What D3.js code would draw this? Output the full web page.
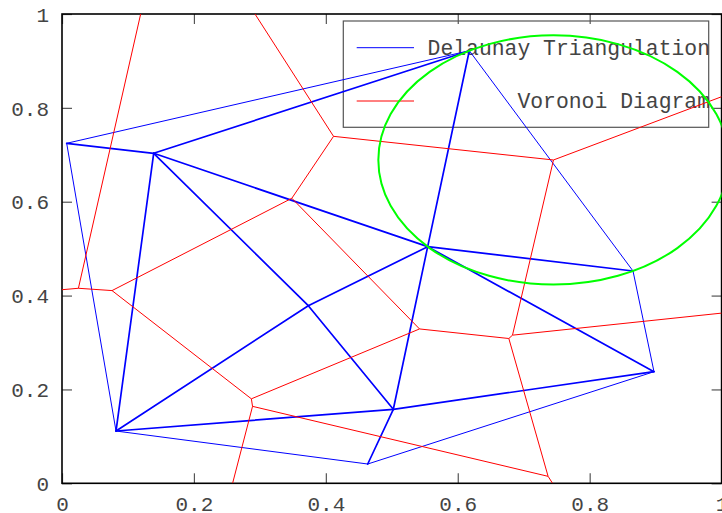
<!DOCTYPE html>
<html><head><meta charset="utf-8">
<script src="https://cdn.jsdelivr.net/npm/d3@7"></script>
<style>body{margin:0;background:#fff}svg{display:block}</style>
</head><body><svg id="c" width="722" height="513"></svg>
<script>
// ---- data ----
const pointsX = [0.0071, 0.1390, 0.6175, 0.5544, 0.8657, 0.8975, 0.5023, 0.4635, 0.0819, 0.3734];
const pointsY = [0.7245, 0.7032, 0.9218, 0.5042, 0.4524, 0.2378, 0.1577, 0.0411, 0.1114, 0.3784];
const circleTriangle = [2, 3, 4]; // points whose circumcircle is highlighted
const xTicks = [0, 0.2, 0.4, 0.6, 0.8, 1];
const xTickLabels = ["0", "0.2", "0.4", "0.6", "0.8", "1"];
const yTicks = [0, 0.2, 0.4, 0.6, 0.8, 1];
const yTickLabels = ["0", "0.2", "0.4", "0.6", "0.8", "1"];
const seriesNames = ["Delaunay Triangulation", "Voronoi Diagram"];
const seriesColors = ["#0000ff", "#ff0000"];

// ---- layout ----
const L = 62, R = 721.6, T = 14, B = 483.3;
const FONT = "Liberation Mono, Courier New, monospace";
const svg = d3.select("#c");
const x = d3.scaleLinear().domain([0, 1]).range([L, R]);
const y = d3.scaleLinear().domain([0, 1]).range([B, T]);

svg.append("defs").append("clipPath").attr("id", "clip")
  .append("rect").attr("x", L).attr("y", T).attr("width", R - L).attr("height", B - T);

// axes (ticks inward, mirrored)
function styleAxis(g, showText) {
  g.select(".domain").remove();
  g.selectAll(".tick line").attr("stroke", "#555").attr("stroke-width", 1.2);
  g.selectAll(".tick text").attr("fill", "#444").style("font-family", FONT).style("font-size", "21px");
  if (!showText) g.selectAll(".tick text").remove();
}
const gx = svg.append("g").attr("transform", `translate(0,${B})`)
  .call(d3.axisBottom(x).tickValues(xTicks).tickFormat((d, i) => xTickLabels[i]).tickSizeInner(-10).tickSizeOuter(0));
styleAxis(gx, true);
gx.selectAll(".tick text").attr("y", 0).attr("dy", "28");
const gxt = svg.append("g").attr("transform", `translate(0,${T})`)
  .call(d3.axisTop(x).tickValues(xTicks).tickSizeInner(-10).tickSizeOuter(0));
styleAxis(gxt, false);
const gy = svg.append("g").attr("transform", `translate(${L},0)`)
  .call(d3.axisLeft(y).tickValues(yTicks).tickFormat((d, i) => yTickLabels[i]).tickSizeInner(-10).tickSizeOuter(0));
styleAxis(gy, true);
gy.selectAll(".tick text").attr("x", -13).attr("dy", "0.34em");
const gyr = svg.append("g").attr("transform", `translate(${R},0)`)
  .call(d3.axisRight(y).tickValues(yTicks).tickSizeInner(-10).tickSizeOuter(0));
styleAxis(gyr, false);

// border
svg.append("rect").attr("x", L).attr("y", T).attr("width", R - L).attr("height", B - T)
  .attr("fill", "none").attr("stroke", "#000").attr("stroke-width", 1.6);

// legend
const lg = svg.append("g");
lg.append("rect").attr("x", 343.3).attr("y", 21).attr("width", 365.4).attr("height", 106.3)
  .attr("fill", "none").attr("stroke", "#555").attr("stroke-width", 1.2);
seriesNames.forEach((name, i) => {
  const yy = 55 + i * 53.3;
  lg.append("line").attr("x1", 356.7).attr("x2", 414).attr("y1", yy - 7.3).attr("y2", yy - 7.3)
    .attr("stroke", seriesColors[i]).attr("stroke-width", 1);
  lg.append("text").attr("x", 710).attr("y", yy).attr("text-anchor", "end")
    .attr("fill", "#444").style("font-family", FONT).style("font-size", "21.4px").text(name);
});

// data
const pts = pointsX.map((v, i) => [v, pointsY[i]]);
const delaunay = d3.Delaunay.from(pts);
const voronoi = delaunay.voronoi([0, 0, 1, 1]);
function scaledContext(p) {
  return {
    moveTo: (a, b) => p.moveTo(x(a), y(b)),
    lineTo: (a, b) => p.lineTo(x(a), y(b)),
    closePath: () => p.closePath()
  };
}
const plot = svg.append("g").attr("clip-path", "url(#clip)");
// Delaunay edges: shared edges (drawn twice by triangle plotting) look heavier
const tri = plot.append("g");
const {triangles, halfedges} = delaunay;
for (let e = 0; e < triangles.length; e++) {
  const j = halfedges[e];
  if (j >= 0 && j < e) continue;
  const a = triangles[e], b = triangles[e % 3 === 2 ? e - 2 : e + 1];
  tri.append("line")
    .attr("x1", x(pts[a][0])).attr("y1", y(pts[a][1]))
    .attr("x2", x(pts[b][0])).attr("y2", y(pts[b][1]))
    .attr("stroke", seriesColors[0]).attr("stroke-width", j >= 0 ? 1.7 : 1)
    .attr("stroke-linecap", "round");
}
const vp = d3.path();
voronoi.render(scaledContext(vp));
plot.append("path").attr("d", vp.toString()).attr("fill", "none")
  .attr("stroke", seriesColors[1]).attr("stroke-width", 1);

// circumcircle
const [A, Bp, C] = circleTriangle.map(i => pts[i]);
const bx = Bp[0] - A[0], by = Bp[1] - A[1], cx = C[0] - A[0], cy = C[1] - A[1];
const d = 2 * (bx * cy - by * cx), b2 = bx * bx + by * by, c2 = cx * cx + cy * cy;
const ux = (cy * b2 - by * c2) / d, uy = (bx * c2 - cx * b2) / d;
const ccx = A[0] + ux, ccy = A[1] + uy, r = Math.hypot(ux, uy);
plot.append("ellipse").attr("cx", x(ccx)).attr("cy", y(ccy))
  .attr("rx", x(ccx + r) - x(ccx)).attr("ry", y(ccy) - y(ccy + r))
  .attr("fill", "none").attr("stroke", "#00ff00").attr("stroke-width", 2);
</script></body></html>
